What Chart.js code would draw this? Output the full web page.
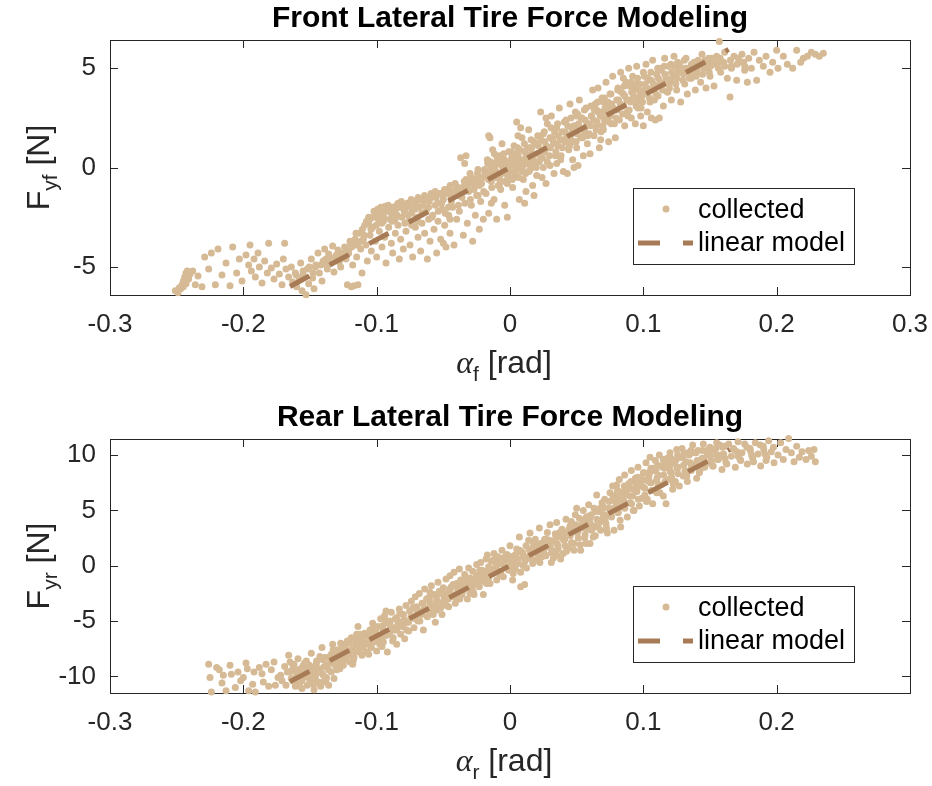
<!DOCTYPE html>
<html>
<head>
<meta charset="utf-8">
<script src="https://cdn.jsdelivr.net/npm/chart.js@4.4.1/dist/chart.umd.min.js"></script>
<style>
  html, body { margin: 0; padding: 0; background: #fff; }
  canvas { display: block; }
</style>
</head>
<body>
<canvas id="frontChart" width="932" height="393"></canvas>
<canvas id="rearChart" width="932" height="393"></canvas>
<script>
// collected samples [slip angle rad, lateral force N]
const frontPoints = [
  [-0.251,-6.2],[-0.249,-6.3],[-0.247,-6.1],[-0.246,-5.9],[-0.245,-5.7],[-0.244,-5.5],[-0.243,-5.3],[-0.242,-5.2],[-0.245,-6.0],[-0.241,-5.6],[-0.240,-5.35],[-0.243,-5.85],[-0.248,-6.05],
  [-0.238,-5.2],[-0.236,-5.9],[-0.234,-5.45],[-0.231,-6.0],[-0.229,-4.5],[-0.226,-5.1],[-0.224,-4.3],[-0.221,-5.9],[-0.219,-4.1],[-0.216,-5.4],[-0.213,-4.8],[-0.21,-5.95],[-0.208,-4.0],[-0.205,-5.3],[-0.203,-4.6],[-0.201,-5.7],
  [-0.198,-4.4],[-0.196,-4.9],[-0.195,-3.9],[-0.194,-5.2],[-0.192,-4.6],[-0.191,-5.5],[-0.189,-4.3],[-0.188,-5.0],[-0.186,-5.8],[-0.184,-4.7],[-0.182,-5.3],[-0.181,-3.8],[-0.179,-5.05],[-0.177,-5.6],[-0.175,-4.85],[-0.173,-5.35],[-0.171,-5.9],[-0.169,-3.8],[-0.168,-5.1],[-0.17,-4.6],
  [-0.166,-5.5],[-0.164,-5.0],[-0.163,-5.75],[-0.161,-5.3],[-0.16,-6.0],[-0.158,-5.6],[-0.157,-4.8],[-0.156,-6.2],[-0.155,-5.4],[-0.153,-6.4],[-0.152,-5.1],[-0.151,-5.85],[-0.149,-4.6],[-0.148,-5.55],[-0.147,-6.1],[-0.146,-5.0],[-0.144,-4.3],[-0.143,-5.3],[-0.142,-4.9],[-0.141,-5.7],
  [-0.139,-4.1],[-0.138,-4.6],[-0.137,-5.1],[-0.136,-4.35],[-0.134,-4.8],[-0.133,-3.95],[-0.132,-5.25],[-0.131,-4.5],[-0.129,-4.15],[-0.128,-4.75],[-0.127,-5.0],[-0.126,-4.4],[-0.124,-4.0],[-0.123,-4.6],[-0.122,-5.9],[-0.121,-4.3],[-0.12,-3.7],[-0.119,-6.0],[-0.118,-4.9],[-0.117,-5.95],[-0.116,-3.9],[-0.115,-4.5],[-0.114,-5.9],[-0.113,-3.3],[-0.112,-4.1],[-0.111,-5.3],[-0.11,-3.6],
  [-0.109,-2.9],[-0.108,-3.9],[-0.107,-4.7],[-0.106,-2.5],[-0.105,-3.4],[-0.104,-4.2],[-0.103,-3.0],[-0.102,-2.2],[-0.101,-3.7],[-0.1,-4.5],[-0.099,-2.4],[-0.098,-3.2],[-0.097,-2.0],[-0.096,-4.0],[-0.095,-2.7],[-0.094,-3.5],[-0.093,-4.8],[-0.092,-2.1],[-0.091,-3.0],[-0.09,-2.6],[-0.089,-3.8],[-0.088,-4.3],[-0.087,-2.3],[-0.086,-3.3],[-0.085,-1.9],[-0.084,-2.9],[-0.083,-4.6],[-0.082,-3.6],[-0.081,-2.5],[-0.08,-4.1],
  [-0.079,-2.1],[-0.078,-3.2],[-0.077,-1.8],[-0.076,-2.7],[-0.075,-3.9],[-0.074,-2.3],[-0.073,-4.5],[-0.072,-1.7],[-0.071,-3.0],[-0.07,-2.5],[-0.069,-3.5],[-0.068,-2.0],[-0.067,-4.2],[-0.066,-2.8],[-0.065,-1.6],[-0.064,-3.3],[-0.063,-2.2],[-0.062,-4.6],[-0.061,-2.6],[-0.06,-3.7],
  [-0.059,-1.5],[-0.058,-2.4],[-0.057,-3.1],[-0.056,-1.9],[-0.055,-4.3],[-0.054,-2.7],[-0.053,-1.3],[-0.052,-3.6],[-0.051,-2.1],[-0.05,-1.6],[-0.049,-2.9],[-0.048,-4.0],[-0.047,-1.1],[-0.046,-2.4],[-0.045,-3.3],[-0.044,-1.7],[-0.043,-2.0],[-0.042,-3.9],[-0.041,-1.3],[-0.04,-2.6],[-0.045,-2.6],[-0.05,-3.8],
  [-0.039,-1.0],[-0.038,-2.2],[-0.037,0.5],[-0.036,-1.5],[-0.035,-3.4],[-0.034,0.2],[-0.033,-0.6],[-0.032,-2.8],[-0.031,-1.2],[-0.03,-0.3],[-0.029,-1.9],[-0.028,-3.7],[-0.027,-0.8],[-0.026,-2.4],[-0.025,-1.4],[-0.024,-0.1],[-0.023,-3.1],[-0.022,-1.7],[-0.021,-0.5],[-0.02,-2.6],[-0.033,0.6],[-0.027,-1.1],[-0.023,-0.9],
  [-0.019,-0.2],[-0.018,-1.3],[-0.017,0.4],[-0.016,-2.3],[-0.015,1.5],[-0.014,-0.7],[-0.013,0.9],[-0.012,-1.6],[-0.011,0.1],[-0.01,-2.6],[-0.009,-0.4],[-0.008,0.6],[-0.007,-1.1],[-0.006,1.2],[-0.005,-0.2],[-0.004,-1.9],[-0.003,0.3],[-0.002,-0.8],[-0.001,0.8],[0.0,-0.5],[-0.016,1.6],[-0.012,-0.3],[-0.008,-0.9],[-0.004,0.0],[-0.002,-2.5],[-0.014,-1.8],[-0.006,0.1],[-0.01,0.3],
  [0.001,0.2],[0.002,-1.0],[0.003,1.1],[0.004,-0.3],[0.005,2.3],[0.006,0.5],[0.007,-1.6],[0.008,0.0],[0.009,1.5],[0.01,-0.6],[0.011,0.8],[0.012,-1.2],[0.013,0.3],[0.014,1.9],[0.015,-0.1],[0.016,0.7],[0.017,-0.9],[0.018,1.3],[0.019,0.2],[0.02,-0.4],[0.003,-0.5],[0.006,1.6],[0.009,-0.2],[0.012,0.5],[0.015,1.0],[0.018,-1.4],[0.008,2.0],[0.011,-1.8],[0.004,0.7],[0.016,0.0],
  [0.021,1.2],[0.022,0.3],[0.023,2.8],[0.024,-0.5],[0.025,1.7],[0.026,0.8],[0.027,-0.8],[0.028,2.2],[0.029,1.0],[0.03,0.1],[0.031,2.6],[0.032,1.4],[0.033,-0.3],[0.034,0.6],[0.035,2.0],[0.036,1.1],[0.037,3.0],[0.038,0.4],[0.039,1.8],[0.04,-0.2],[0.025,0.0],[0.03,1.5],[0.035,0.2],[0.027,2.5],
  [0.041,1.3],[0.042,2.4],[0.043,-0.3],[0.044,0.9],[0.045,3.2],[0.046,1.7],[0.047,0.4],[0.048,2.1],[0.049,2.8],[0.05,1.0],[0.051,0.1],[0.052,3.4],[0.053,1.5],[0.054,2.5],[0.055,0.6],[0.056,1.9],[0.057,3.0],[0.058,1.2],[0.059,2.2],[0.06,0.7],[0.045,1.2],[0.05,2.6],[0.055,1.6],[0.048,0.0],
  [0.061,2.6],[0.062,3.9],[0.063,1.6],[0.064,3.2],[0.065,2.1],[0.066,4.0],[0.067,1.0],[0.068,2.8],[0.069,3.5],[0.07,1.9],[0.071,2.4],[0.072,4.3],[0.073,3.0],[0.074,1.3],[0.075,3.7],[0.076,2.2],[0.077,4.6],[0.078,2.9],[0.079,1.5],[0.08,3.4],[0.065,2.9],[0.07,3.3],[0.075,2.6],[0.068,1.4],
  [0.081,4.0],[0.082,2.4],[0.083,4.8],[0.084,3.1],[0.085,3.7],[0.086,2.1],[0.087,4.3],[0.088,2.8],[0.089,5.0],[0.09,3.4],[0.091,2.5],[0.092,4.6],[0.093,3.9],[0.094,2.2],[0.095,5.1],[0.096,3.0],[0.097,4.2],[0.098,2.6],[0.099,3.6],[0.1,4.8],[0.085,4.5],[0.09,4.1],[0.095,3.3],[0.1,2.1],
  [0.101,3.9],[0.102,5.2],[0.103,2.8],[0.104,4.4],[0.105,3.3],[0.106,2.5],[0.107,5.4],[0.108,4.0],[0.109,2.4],[0.11,4.7],[0.111,3.6],[0.112,2.5],[0.113,5.0],[0.114,4.2],[0.115,3.1],[0.116,5.5],[0.117,4.5],[0.118,3.8],[0.119,5.1],[0.12,4.3],
  [0.121,3.4],[0.123,5.6],[0.124,4.6],[0.125,3.9],[0.127,5.2],[0.128,3.3],[0.129,4.9],[0.131,4.2],[0.132,5.5],[0.133,3.7],[0.135,5.0],[0.136,4.5],[0.138,5.3],[0.139,3.9],[0.14,4.8],
  [0.141,5.4],[0.143,4.3],[0.144,5.7],[0.146,5.0],[0.147,4.0],[0.149,5.5],[0.15,4.6],[0.152,5.2],[0.153,4.1],[0.155,5.6],[0.157,6.35],[0.158,4.8],[0.159,5.3],
  [0.161,5.8],[0.163,4.5],[0.165,3.55],[0.166,5.1],[0.168,5.6],[0.17,4.4],[0.172,5.3],[0.174,5.7],[0.176,4.9],[0.178,4.3],[0.179,5.5],
  [0.181,5.0],[0.183,5.8],[0.185,4.4],[0.187,5.4],[0.19,5.1],[0.192,5.6],[0.195,4.8],[0.197,5.3],[0.2,5.9],
  [0.201,5.0],[0.205,5.6],[0.208,5.2],[0.212,5.0],[0.215,5.9],[0.218,5.3],[0.22,5.5],[0.223,5.6],[0.226,5.8],[0.229,5.7],[0.232,5.6],[0.235,5.75]
];
// the dense ridge of the front cloud
const frontCore = [
  [-0.1603,-5.4],[-0.1552,-5.2],[-0.1505,-5.0],[-0.1456,-4.9],[-0.1401,-4.7],[-0.1354,-4.5],[-0.1302,-4.4],[-0.1251,-4.3],[-0.1577,-5.6],[-0.1478,-5.3],[-0.1376,-4.9],[-0.1282,-4.6],
  [-0.1213,-4.2],[-0.1188,-4.0],[-0.1196,-3.8],[-0.1162,-3.6],[-0.1141,-3.9],[-0.1155,-3.3],[-0.1107,-3.1],[-0.1094,-3.4],[-0.1118,-3.7],
  [-0.1061,-2.8],[-0.1043,-3.1],[-0.1052,-2.6],[-0.1012,-2.3],[-0.0987,-2.6],[-0.1004,-2.9],[-0.0993,-2.1],
  [-0.0958,-2.2],[-0.0946,-2.5],[-0.0937,-1.95],[-0.0962,-2.8],[-0.0913,-1.9],[-0.0891,-2.3],[-0.0902,-2.0],[-0.0884,-2.7],
  [-0.0857,-2.1],[-0.0846,-2.4],[-0.0839,-1.8],[-0.0861,-2.6],[-0.0806,-1.9],[-0.0793,-2.2],[-0.0815,-1.7],[-0.0788,-2.8],
  [-0.0752,-2.0],[-0.0741,-1.6],[-0.0764,-2.4],[-0.0737,-2.9],[-0.0708,-1.8],[-0.0689,-1.5],[-0.0712,-2.1],[-0.0694,-2.7],
  [-0.0653,-1.9],[-0.0641,-1.4],[-0.0662,-2.3],[-0.0606,-1.7],[-0.0592,-1.3],[-0.0611,-2.0],[-0.0587,-2.5],
  [-0.0554,-1.5],[-0.0543,-1.8],[-0.0561,-1.2],[-0.0538,-2.2],[-0.0502,-1.4],[-0.0491,-1.1],[-0.0513,-1.8],[-0.0486,-2.3],
  [-0.0457,-1.2],[-0.0441,-1.5],[-0.0449,-0.9],[-0.0462,-2.0],[-0.0403,-1.1],[-0.0392,-1.4],[-0.0411,-0.8],[-0.0387,-1.9],
  [-0.0356,-1.0],[-0.0343,-0.7],[-0.0361,-1.3],[-0.0338,-1.8],[-0.0304,-0.8],[-0.0291,-0.5],[-0.0312,-1.1],[-0.0297,-1.6],
  [-0.0253,-0.6],[-0.0244,-0.3],[-0.0261,-0.9],[-0.0239,-1.4],[-0.0206,-0.5],[-0.0191,-0.1],[-0.0213,-0.8],[-0.0197,-1.2],
  [-0.0152,-0.3],[-0.0143,0.0],[-0.0161,-0.6],[-0.0148,0.3],[-0.0137,-1.0],[-0.0104,-0.2],[-0.0092,0.2],[-0.0111,-0.5],[-0.0097,0.5],[-0.0089,-0.9],
  [-0.0053,0.0],[-0.0042,0.4],[-0.0061,-0.3],[-0.0047,0.7],[-0.0038,-0.7],[0.0004,0.1],[0.0013,0.5],[-0.0011,-0.2],[0.0008,0.8],[0.0017,-0.6],[-0.0006,0.3],
  [0.0052,0.3],[0.0061,0.6],[0.0043,-0.1],[0.0057,1.0],[0.0066,-0.5],[0.0048,0.2],[0.0103,0.4],[0.0112,0.8],[0.0094,0.0],[0.0108,1.2],[0.0117,-0.3],
  [0.0151,0.6],[0.0163,1.0],[0.0146,0.2],[0.0158,1.4],[0.0142,-0.2],[0.0204,0.7],[0.0212,1.1],[0.0193,0.3],[0.0208,1.6],[0.0197,0.0],
  [0.0253,0.9],[0.0261,1.3],[0.0244,0.5],[0.0257,1.8],[0.0302,1.0],[0.0314,1.5],[0.0296,0.6],[0.0308,2.0],
  [0.0351,1.2],[0.0363,1.6],[0.0344,0.8],[0.0357,2.2],[0.0404,1.4],[0.0412,1.8],[0.0393,1.0],[0.0408,2.3],
  [0.0452,1.5],[0.0461,2.0],[0.0446,1.1],[0.0457,2.5],[0.0503,1.7],[0.0514,2.2],[0.0496,1.3],[0.0507,2.7],
  [0.0551,1.9],[0.0563,2.4],[0.0544,1.5],[0.0558,2.9],[0.0602,2.1],[0.0611,2.6],[0.0594,1.7],[0.0606,3.1],
  [0.0653,2.3],[0.0661,2.8],[0.0646,1.9],[0.0657,3.3],[0.0704,2.5],[0.0713,3.0],[0.0697,2.1],[0.0708,3.5],
  [0.0751,2.7],[0.0762,3.2],[0.0743,2.3],[0.0757,3.7],[0.0803,2.9],[0.0814,3.4],[0.0796,2.5],[0.0808,3.9],
  [0.0852,3.1],[0.0861,3.6],[0.0844,2.7],[0.0857,4.1],[0.0903,3.3],[0.0912,3.8],[0.0894,2.9],[0.0907,4.3],
  [0.0951,3.5],[0.0963,4.0],[0.0946,3.1],[0.0957,4.5],[0.1002,3.7],[0.1013,4.2],[0.0994,3.3],[0.1008,4.6],
  [0.1053,3.9],[0.1061,4.4],[0.1046,3.5],[0.1057,4.8],[0.1102,4.1],[0.1113,4.5],[0.1094,3.7],[0.1108,5.0],
  [0.1151,4.2],[0.1162,4.7],[0.1144,3.9],[0.1157,5.1],[0.1203,4.4],[0.1212,4.8],[0.1196,4.0],[0.1207,5.2],
  [0.1252,4.5],[0.1261,4.9],[0.1244,4.2],[0.1257,5.3],[0.1302,4.7],[0.1311,5.0],[0.1296,4.4],[0.1307,5.4],
  [0.1353,4.8],[0.1361,5.2],[0.1346,4.5],[0.1402,4.9],[0.1413,5.3],[0.1396,4.6],[0.1452,5.0],[0.1461,5.4],[0.1444,4.7],
  [0.1503,5.1],[0.1512,5.5],[0.1494,4.8],[0.1551,5.2],[0.1563,5.0],[0.1602,5.3],[0.1611,5.1],[0.1653,5.4],[0.1661,5.0],
  [0.1702,5.2],[0.1713,5.5],[0.1752,5.3],[0.1761,5.1]
];
// extra samples filling the thick part of the front band
const frontFill = [
  [-0.1076,-2.7],[-0.1026,-2.5],[-0.0976,-2.4],[-0.0926,-2.2],[-0.0876,-2.0],[-0.0826,-2.0],[-0.0776,-1.9],[-0.0726,-1.7],[-0.0676,-1.6],
  [-0.0626,-1.6],[-0.0576,-1.4],[-0.0526,-1.3],[-0.0476,-1.3],[-0.0426,-1.2],[-0.0376,-1.1],[-0.0326,-0.9],[-0.0276,-0.7],[-0.0226,-0.6],
  [-0.0182,-0.4],[-0.0167,0.2],[-0.0124,-0.1],[-0.0118,0.7],[-0.0076,-0.6],[-0.0069,0.4],[-0.0027,0.2],[-0.0019,-0.4],[0.0021,0.6],[0.0029,-0.2],
  [0.0072,0.9],[0.0078,0.3],[0.0123,0.2],[0.0131,1.0],[0.0174,0.4],[0.0182,1.2],[0.0226,0.6],[0.0233,1.4],[0.0272,1.1],[0.0279,0.3],
  [0.0327,1.2],[0.0334,1.8],[0.0376,1.4],[0.0383,0.6],[0.0427,1.6],[0.0433,2.1],[0.0478,1.9],[0.0482,1.3],[0.0527,2.0],[0.0534,2.5],
  [0.0576,2.2],[0.0583,1.6],[0.0627,2.4],[0.0633,2.9],[0.0676,2.6],[0.0683,1.8],[0.0726,2.8],[0.0733,3.3],[0.0776,3.0],[0.0783,2.2],
  [0.0827,3.2],[0.0834,3.8],[0.0876,3.4],[0.0884,2.6],[0.0927,3.6],[0.0934,4.2],[0.0976,3.8],[0.0983,3.0],[0.1027,4.0],[0.1034,4.5],
  [0.1076,4.2],[0.1083,3.4],[0.1127,4.3],[0.1134,4.9],[0.1176,4.5],[0.1183,3.8],[0.1227,4.6],[0.1234,5.1],[0.1276,4.8],[0.1326,5.0],
  [0.1376,5.1],[0.1426,5.2],[0.1476,5.3],[0.1526,5.4],[0.1576,5.5]
];
const frontModel = [[-0.165, -5.98], [0.164, 5.95]];

const rearPoints = [
  [-0.226,-8.9],[-0.225,-10.1],[-0.224,-11.4],[-0.22,-9.2],[-0.218,-9.4],[-0.216,-10.6],[-0.215,-9.9],[-0.213,-11.3],[-0.21,-9.0],[-0.209,-9.8],[-0.206,-11.0],[-0.204,-9.6],[-0.202,-10.4],[-0.2,-10.1],[-0.198,-8.8],[-0.197,-9.3],[-0.196,-11.3],[-0.193,-10.7],[-0.192,-9.6],[-0.191,-11.4],
  [-0.188,-9.2],[-0.186,-9.75],[-0.185,-10.5],[-0.183,-8.9],[-0.181,-10.9],[-0.179,-9.4],[-0.177,-8.7],[-0.176,-10.8],[-0.174,-10.1],[-0.172,-9.9],[-0.171,-10.4],[-0.169,-9.1],[-0.168,-10.8],[-0.167,-9.6],[-0.166,-8.1],[-0.165,-8.7],
  [-0.164,-9.5],[-0.163,-10.4],[-0.162,-8.9],[-0.161,-10.9],[-0.16,-9.9],[-0.159,-8.4],[-0.158,-10.6],[-0.157,-9.3],[-0.156,-11.1],[-0.155,-10.1],[-0.154,-8.8],[-0.153,-9.7],[-0.152,-10.8],[-0.151,-9.1],[-0.15,-10.4],[-0.149,-7.9],[-0.148,-9.6],[-0.147,-11.2],[-0.146,-10.0],[-0.145,-8.6],[-0.144,-10.6],[-0.143,-9.3],[-0.142,-10.9],[-0.141,-7.4],[-0.14,-9.9],[-0.139,-8.3],[-0.138,-10.3],[-0.137,-9.0],[-0.136,-10.8],[-0.135,-8.7],[-0.134,-9.6],[-0.133,-7.1],[-0.132,-10.2],[-0.131,-8.2],[-0.13,-9.4],[-0.158,-9.9],[-0.152,-9.4],[-0.146,-9.1],[-0.14,-10.5],[-0.134,-8.0],[-0.148,-10.2],[-0.155,-9.0],
  [-0.129,-7.6],[-0.128,-8.8],[-0.127,-7.0],[-0.126,-8.2],[-0.125,-9.0],[-0.124,-7.4],[-0.123,-8.5],[-0.122,-6.8],[-0.121,-7.9],[-0.12,-8.7],[-0.119,-6.5],[-0.118,-7.6],[-0.117,-8.3],[-0.116,-7.1],[-0.115,-6.2],[-0.114,-5.5],[-0.113,-7.8],[-0.112,-6.7],[-0.111,-8.1],[-0.11,-7.3],[-0.109,-6.1],[-0.108,-7.0],[-0.107,-7.8],[-0.106,-6.4],[-0.105,-5.8],[-0.104,-7.4],[-0.103,-5.2],[-0.102,-6.9],[-0.101,-6.0],[-0.1,-7.7],[-0.125,-7.8],[-0.118,-8.9],[-0.112,-7.3],[-0.106,-8.0],
  [-0.099,-5.5],[-0.098,-6.6],[-0.097,-4.8],[-0.096,-7.3],[-0.095,-5.9],[-0.094,-4.5],[-0.093,-6.3],[-0.092,-7.8],[-0.091,-5.2],[-0.09,-6.0],[-0.089,-4.2],[-0.088,-6.8],[-0.087,-5.6],[-0.086,-4.8],[-0.085,-7.1],[-0.084,-5.0],[-0.083,-3.9],[-0.082,-6.2],[-0.081,-5.4],[-0.08,-4.4],[-0.079,-6.6],[-0.078,-3.6],[-0.077,-5.1],[-0.076,-5.9],[-0.075,-4.1],[-0.095,-6.9],[-0.09,-5.1],[-0.085,-5.8],[-0.08,-5.3],[-0.093,-4.1],
  [-0.074,-3.2],[-0.073,-4.7],[-0.072,-5.6],[-0.071,-2.8],[-0.07,-3.8],[-0.069,-5.0],[-0.068,-2.5],[-0.067,-4.3],[-0.066,-3.4],[-0.065,-5.8],[-0.064,-2.1],[-0.063,-3.9],[-0.062,-4.6],[-0.061,-2.9],[-0.06,-3.5],[-0.059,-1.8],[-0.058,-4.1],[-0.057,-2.6],[-0.056,-5.1],[-0.055,-3.2],[-0.054,-1.5],[-0.053,-2.3],[-0.052,-3.8],[-0.051,-4.4],[-0.05,-2.0],[-0.07,-4.4],[-0.065,-4.0],[-0.06,-2.4],[-0.055,-4.0],
  [-0.049,-3.1],[-0.048,-1.2],[-0.047,-2.5],[-0.046,-3.7],[-0.045,-0.9],[-0.044,-1.9],[-0.043,-2.8],[-0.042,-0.6],[-0.041,-3.4],[-0.04,-1.6],[-0.039,-2.2],[-0.038,-0.3],[-0.037,-1.3],[-0.036,-2.6],[-0.035,-2.2],[-0.034,-0.8],[-0.033,-1.8],[-0.032,-3.0],[-0.031,-0.2],[-0.03,-1.1],[-0.029,-2.0],[-0.028,-0.5],[-0.027,-2.6],[-0.026,-1.4],[-0.025,0.1],[-0.045,-2.2],[-0.04,-2.9],[-0.035,-1.5],[-0.03,-2.5],
  [-0.024,-0.9],[-0.023,-1.9],[-0.022,0.3],[-0.021,-0.4],[-0.02,-2.6],[-0.019,-1.2],[-0.018,0.6],[-0.017,0.96],[-0.016,-0.1],[-0.015,-1.6],[-0.014,0.4],[-0.013,-0.7],[-0.012,1.1],[-0.011,-0.2],[-0.01,-1.3],[-0.009,0.8],[-0.008,0.2],[-0.007,-0.6],[-0.006,1.4],[-0.005,-1.0],[-0.004,0.5],[-0.003,-0.1],[-0.002,1.0],[-0.001,-0.4],[0.0,1.8],[-0.02,-0.6],[-0.015,-0.5],[-0.01,0.1],[-0.005,0.7],
  [0.001,0.3],[0.002,-1.3],[0.003,0.9],[0.004,-0.3],[0.005,1.5],[0.006,0.6],[0.007,2.6],[0.008,-0.6],[0.009,1.2],[0.01,0.0],[0.011,-1.7],[0.012,1.8],[0.013,0.7],[0.014,2.3],[0.015,2.95],[0.016,1.0],[0.017,0.2],[0.018,1.6],[0.019,2.4],[0.02,0.5],[0.021,1.3],[0.022,3.4],[0.023,2.0],[0.024,0.8],[0.025,1.6],[0.005,0.2],[0.01,1.0],[0.015,1.4],[0.02,1.9],[0.008,-1.9],
  [0.026,2.4],[0.027,0.9],[0.028,3.0],[0.029,1.7],[0.03,3.7],[0.031,0.3],[0.032,2.2],[0.033,1.3],[0.034,2.9],[0.035,3.9],[0.036,1.8],[0.037,2.6],[0.038,0.6],[0.039,3.3],[0.04,1.1],[0.041,2.4],[0.042,4.2],[0.043,3.0],[0.044,1.6],[0.045,2.8],[0.046,4.0],[0.047,3.4],[0.048,2.0],[0.049,4.6],[0.05,5.2],[0.03,2.0],[0.035,1.0],[0.04,2.9],[0.045,3.6],[0.048,1.4],
  [0.051,3.1],[0.052,4.3],[0.053,1.4],[0.054,3.7],[0.055,5.0],[0.056,2.5],[0.057,4.1],[0.058,3.3],[0.059,5.5],[0.06,2.0],[0.061,4.6],[0.062,3.6],[0.063,5.2],[0.064,2.7],[0.065,6.4],[0.066,4.0],[0.067,4.9],[0.068,3.2],[0.069,5.7],[0.07,4.4],[0.071,6.0],[0.072,3.8],[0.073,2.95],[0.074,5.2],[0.075,6.6],[0.055,3.9],[0.06,4.3],[0.065,3.5],[0.07,5.2],[0.057,2.0],
  [0.076,4.5],[0.077,7.2],[0.078,3.2],[0.079,5.8],[0.08,6.5],[0.081,4.8],[0.082,7.8],[0.083,3.5],[0.084,6.1],[0.085,5.3],[0.086,8.2],[0.087,6.8],[0.088,4.4],[0.089,7.4],[0.09,5.7],[0.091,8.6],[0.092,6.3],[0.093,5.0],[0.094,7.9],[0.095,6.9],[0.096,8.9],[0.097,5.4],[0.098,7.3],[0.099,6.1],[0.1,8.4],[0.08,7.3],[0.085,6.7],[0.09,7.0],[0.095,7.6],[0.082,5.5],
  [0.101,7.0],[0.102,9.3],[0.103,6.0],[0.104,8.0],[0.105,9.8],[0.106,7.5],[0.107,5.6],[0.108,8.6],[0.109,9.5],[0.11,6.6],[0.111,8.2],[0.112,10.0],[0.113,7.3],[0.114,9.0],[0.115,6.3],[0.116,8.8],[0.117,5.6],[0.118,9.7],[0.119,7.8],[0.12,10.2],[0.121,8.4],[0.122,6.9],[0.123,9.3],[0.124,7.6],[0.125,10.5],[0.105,8.5],[0.11,7.7],[0.115,9.6],[0.12,9.0],
  [0.126,8.9],[0.127,7.2],[0.128,9.8],[0.129,10.6],[0.13,8.1],[0.132,9.4],[0.133,7.6],[0.134,10.2],[0.136,8.6],[0.137,10.9],[0.138,9.1],[0.14,7.9],[0.141,10.4],[0.142,8.4],[0.144,9.7],[0.145,11.0],[0.146,8.9],[0.148,10.1],[0.149,9.3],[0.15,10.7],
  [0.152,9.0],[0.153,10.4],[0.155,11.1],[0.156,9.6],[0.158,10.0],[0.159,8.7],[0.161,10.8],[0.162,9.3],[0.164,11.0],[0.166,9.9],[0.168,10.5],[0.169,8.9],[0.171,11.2],[0.173,9.5],[0.174,10.2],
  [0.176,11.0],[0.178,9.2],[0.18,10.6],[0.182,9.7],[0.184,11.1],[0.186,10.1],[0.188,9.0],[0.19,10.8],[0.192,9.5],[0.194,11.3],[0.196,10.3],[0.198,9.3],
  [0.201,10.0],[0.203,11.1],[0.205,9.6],[0.207,10.5],[0.209,11.5],[0.211,10.2],[0.213,9.4],[0.215,10.8],[0.217,9.8],[0.219,10.3],[0.222,9.6],[0.224,10.4],[0.226,9.9],[0.228,10.5],[0.229,9.4]
];
// the dense ridge of the rear cloud
const rearCore = [
  [-0.1652,-9.6],[-0.1641,-10.2],[-0.1603,-9.4],[-0.1594,-10.0],[-0.1612,-10.6],[-0.1553,-9.2],[-0.1542,-9.8],[-0.1561,-10.4],
  [-0.1504,-9.0],[-0.1493,-9.5],[-0.1512,-10.1],[-0.1452,-8.8],[-0.1444,-9.3],[-0.1461,-9.9],[-0.1437,-10.5],
  [-0.1403,-8.5],[-0.1392,-9.1],[-0.1411,-9.7],[-0.1352,-8.2],[-0.1343,-8.8],[-0.1361,-9.4],[-0.1303,-7.8],[-0.1294,-8.4],[-0.1312,-9.0],
  [-0.1252,-7.4],[-0.1241,-8.0],[-0.1263,-8.6],[-0.1203,-7.0],[-0.1192,-7.6],[-0.1211,-8.1],[-0.1152,-6.7],[-0.1143,-7.2],[-0.1161,-7.8],
  [-0.1103,-6.4],[-0.1094,-6.9],[-0.1112,-7.4],[-0.1052,-6.1],[-0.1041,-6.6],[-0.1063,-7.1],[-0.1003,-5.7],[-0.0992,-6.3],[-0.1011,-6.8],
  [-0.0952,-5.4],[-0.0943,-6.0],[-0.0961,-6.5],[-0.0903,-5.0],[-0.0894,-5.6],[-0.0912,-6.2],[-0.0852,-4.7],[-0.0841,-5.3],[-0.0863,-5.8],
  [-0.0803,-4.4],[-0.0792,-4.9],[-0.0811,-5.5],[-0.0752,-4.1],[-0.0743,-4.6],[-0.0761,-5.1],[-0.0703,-3.7],[-0.0694,-4.2],[-0.0712,-4.8],
  [-0.0652,-3.4],[-0.0641,-3.9],[-0.0663,-4.4],[-0.0603,-3.1],[-0.0592,-3.6],[-0.0611,-4.1],[-0.0552,-2.8],[-0.0543,-3.2],[-0.0561,-3.7],
  [-0.0503,-2.5],[-0.0494,-2.9],[-0.0512,-3.4],[-0.0452,-2.1],[-0.0441,-2.6],[-0.0463,-3.0],[-0.0403,-1.8],[-0.0392,-2.3],[-0.0411,-2.7],
  [-0.0352,-1.5],[-0.0343,-1.9],[-0.0361,-2.4],[-0.0303,-1.2],[-0.0294,-1.6],[-0.0312,-2.0],[-0.0252,-0.9],[-0.0241,-1.3],[-0.0263,-1.7],
  [-0.0203,-0.6],[-0.0192,-1.0],[-0.0211,-1.4],[-0.0152,-0.3],[-0.0143,-0.7],[-0.0161,-1.1],[-0.0103,0.0],[-0.0094,-0.4],[-0.0112,0.4],
  [-0.0052,0.2],[-0.0041,-0.2],[-0.0063,0.6],[0.0003,0.4],[0.0012,0.0],[-0.0008,0.8],[0.0052,0.6],[0.0061,0.2],[0.0043,1.0],
  [0.0103,0.8],[0.0112,0.4],[0.0094,1.2],[0.0152,1.0],[0.0161,0.6],[0.0143,1.5],[0.0203,1.2],[0.0214,0.8],[0.0196,1.7],
  [0.0252,1.4],[0.0261,1.0],[0.0243,2.0],[0.0303,1.7],[0.0312,1.2],[0.0294,2.3],[0.0352,2.0],[0.0361,1.5],[0.0344,2.6],
  [0.0403,2.3],[0.0414,1.8],[0.0396,2.9],[0.0452,2.7],[0.0461,2.1],[0.0443,3.3],[0.0503,3.0],[0.0512,2.5],[0.0494,3.7],
  [0.0552,3.4],[0.0563,2.8],[0.0544,4.1],[0.0603,3.8],[0.0612,3.2],[0.0594,4.5],[0.0652,4.2],[0.0661,3.6],[0.0643,4.9],
  [0.0703,4.6],[0.0714,4.0],[0.0696,5.4],[0.0752,5.0],[0.0761,4.4],[0.0743,5.8],
  [0.0803,5.5],[0.0812,4.8],[0.0794,6.2],[0.0807,6.8],[0.0852,5.9],[0.0861,5.2],[0.0843,6.6],[0.0857,7.2],
  [0.0903,6.3],[0.0912,5.6],[0.0894,7.0],[0.0907,7.6],[0.0952,6.7],[0.0963,6.0],[0.0944,7.4],[0.0957,8.0],
  [0.1003,7.1],[0.1012,6.4],[0.0994,7.8],[0.1007,8.4],[0.1052,7.5],[0.1061,6.8],[0.1043,8.2],[0.1057,8.8],
  [0.1103,7.9],[0.1112,7.2],[0.1094,8.6],[0.1107,9.1],[0.1152,8.2],[0.1163,7.6],[0.1144,8.9],[0.1157,9.4],
  [0.1203,8.5],[0.1212,8.0],[0.1194,9.2],[0.1207,9.7],[0.1252,8.8],[0.1261,8.3],[0.1243,9.5],[0.1257,10.0],
  [0.1303,9.1],[0.1312,8.6],[0.1294,9.8],[0.1307,10.2],[0.1352,9.3],[0.1361,8.9],[0.1344,10.0],[0.1357,10.4],
  [0.1403,9.5],[0.1412,9.1],[0.1394,10.2],[0.1452,9.7],[0.1461,9.3],[0.1443,10.4],[0.1503,9.9],[0.1512,9.5],[0.1494,10.5],
  [0.1552,10.0],[0.1561,9.6],[0.1544,10.6],[0.1603,10.1],[0.1612,9.7],[0.1594,10.7],[0.1703,10.3],[0.1712,9.9],
  [0.1803,10.4],[0.1812,10.0],[0.1903,10.5],[0.1912,10.1]
];
// extra samples filling the thick part of the rear band
const rearFill = [
  [-0.1627,-9.0],[-0.1578,-10.9],[-0.1527,-8.6],[-0.1476,-10.7],[-0.1426,-8.2],[-0.1377,-10.1],[-0.1326,-7.6],[-0.1276,-9.3],[-0.1227,-7.0],
  [-0.1176,-8.6],[-0.1126,-6.2],[-0.1077,-7.8],[-0.1026,-5.6],[-0.0976,-7.1],[-0.0927,-5.0],[-0.0876,-6.5],[-0.0826,-4.3],[-0.0776,-5.8],
  [-0.0727,-3.8],[-0.0676,-5.0],[-0.0626,-3.0],[-0.0576,-4.4],[-0.0527,-2.5],[-0.0476,-3.6],[-0.0427,-1.7],[-0.0376,-3.0],[-0.0326,-1.1],
  [-0.0276,-2.3],[-0.0227,-0.4],[-0.0176,-1.6],[-0.0126,0.5],[-0.0076,-0.9],[-0.0027,1.0],[0.0024,-0.7],[0.0073,1.4],[0.0124,-0.2],
  [0.0176,2.0],[0.0224,0.3],[0.0273,2.4],[0.0326,0.7],[0.0373,3.0],[0.0424,1.3],[0.0473,3.6],[0.0526,1.9],[0.0573,4.4],[0.0624,2.6],
  [0.0676,5.2],[0.0724,3.4],[0.0773,6.2],[0.0826,4.1],[0.0873,7.0],[0.0924,5.0],[0.0976,7.9],[0.1024,5.8],[0.1073,8.8],[0.1124,6.6],
  [0.1176,9.2],[0.1224,7.4],[0.1273,9.8],[0.1326,8.1],[0.1373,10.2],[0.1424,8.6],[0.1476,10.4],[0.1524,9.0],[0.1573,10.9],[0.1626,9.2],
  [0.1676,10.6],[0.1726,9.6],[0.1776,10.7],[0.1826,9.4],[0.1876,10.9],[0.1926,9.8],[0.1976,10.7],
  [-0.1476,-9.6],[-0.1426,-9.6],[-0.1376,-9.0],[-0.1326,-8.6],[-0.0376,-2.0],[-0.0326,-1.7],[-0.0276,-1.3],[-0.0226,-1.1],[-0.0176,-0.5],
  [0.0676,4.0],[0.0726,4.5],[0.0776,5.2],[0.0826,5.8],[0.0876,6.4],[0.0926,6.9],[0.0976,7.2],[0.1026,7.7]
];
const rearModel = [[-0.165, -10.47], [0.165, 10.5]];

const frontSlipTicks = [-0.3, -0.2, -0.1, 0, 0.1, 0.2, 0.3];
const rearSlipTicks = [-0.3, -0.2, -0.1, 0, 0.1, 0.2];
const frontForceTicks = [-5, 0, 5];
const rearForceTicks = [-10, -5, 0, 5, 10];

const FONT = '"Liberation Sans", Arial, Helvetica, sans-serif';
const AXIS_COLOR = '#262626';
const DOT_COLOR = '#D5BA95';
const LINE_COLOR = '#A67B56';

// draw a label made of pieces (for subscripts), centered on (x, y)
function drawParts(ctx, parts, x, y, angle) {
  ctx.save();
  ctx.translate(x, y);
  ctx.rotate(angle);
  let total = 0;
  parts.forEach(p => { ctx.font = p.font; p.w = ctx.measureText(p.text).width; total += p.w; });
  let cx = -total / 2;
  ctx.textAlign = 'left';
  ctx.textBaseline = 'alphabetic';
  ctx.fillStyle = AXIS_COLOR;
  parts.forEach(p => { ctx.font = p.font; ctx.fillText(p.text, cx, p.dy || 0); cx += p.w; });
  ctx.restore();
}

const framePlugin = {
  id: 'frame',
  beforeDatasetsDraw(chart) {
    const { ctx, chartArea: a, scales: { x, y } } = chart;
    ctx.save();
    ctx.strokeStyle = AXIS_COLOR;
    ctx.lineWidth = 1;
    ctx.beginPath();
    x.ticks.forEach(t => {
      const px = Math.round(x.getPixelForValue(t.value)) + 0.5;
      ctx.moveTo(px, a.bottom); ctx.lineTo(px, a.bottom - 8);
      ctx.moveTo(px, a.top); ctx.lineTo(px, a.top + 8);
    });
    y.ticks.forEach(t => {
      const py = Math.round(y.getPixelForValue(t.value)) + 0.5;
      ctx.moveTo(a.left, py); ctx.lineTo(a.left + 8, py);
      ctx.moveTo(a.right, py); ctx.lineTo(a.right - 8, py);
    });
    ctx.stroke();
    ctx.strokeRect(Math.round(a.left) + 0.5, Math.round(a.top) + 0.5, Math.round(a.right - a.left), Math.round(a.bottom - a.top));
    ctx.restore();
  },
  afterDatasetsDraw(chart, args, opts) {
    const { ctx, chartArea: a } = chart;
    const midX = (a.left + a.right) / 2;
    ctx.save();
    ctx.fillStyle = '#000';
    ctx.font = 'bold 30px ' + FONT;
    ctx.textAlign = 'center';
    ctx.textBaseline = 'alphabetic';
    ctx.fillText(opts.title, midX, a.top - 13);
    ctx.restore();

    // axis labels with subscripts
    drawParts(ctx, [
      { text: '\u03b1', font: 'italic 32px "Liberation Serif", "Times New Roman", serif' },
      { text: opts.sub, font: '21px ' + FONT, dy: 8 },
      { text: ' [rad]', font: '32px ' + FONT }
    ], midX - 6, a.bottom + 78, 0);
    drawParts(ctx, [
      { text: 'F', font: '32px ' + FONT },
      { text: 'y' + opts.sub, font: '21px ' + FONT, dy: 8 },
      { text: ' [N]', font: '32px ' + FONT }
    ], 49, (a.top + a.bottom) / 2, -Math.PI / 2);

    // legend box inside the axes, bottom right
    const sets = chart.data.datasets;
    const bw = 221, bh = 76;
    const bx = Math.round(a.right - 56 - bw), by = Math.round(a.bottom - 31 - bh);
    ctx.save();
    ctx.fillStyle = '#fff';
    ctx.fillRect(bx, by, bw, bh);
    ctx.strokeStyle = AXIS_COLOR;
    ctx.lineWidth = 1;
    ctx.strokeRect(bx + 0.5, by + 0.5, bw, bh);
    ctx.fillStyle = DOT_COLOR;
    ctx.beginPath();
    ctx.arc(bx + 33, by + 21, 3.5, 0, Math.PI * 2);
    ctx.fill();
    ctx.strokeStyle = LINE_COLOR;
    ctx.lineWidth = 5;
    ctx.setLineDash([22, 23]);
    ctx.beginPath();
    ctx.moveTo(bx + 5, by + 55);
    ctx.lineTo(bx + 60, by + 55);
    ctx.stroke();
    ctx.setLineDash([]);
    ctx.fillStyle = '#000';
    ctx.font = '27px ' + FONT;
    ctx.textAlign = 'left';
    ctx.textBaseline = 'middle';
    ctx.fillText(sets[1].label, bx + 65, by + 23);
    ctx.fillText(sets[0].label, bx + 65, by + 56);
    ctx.restore();
  }
};

function makeChart(id, cfg) {
  return new Chart(document.getElementById(id), {
    type: 'scatter',
    data: {
      datasets: [
        {
          label: 'linear model',
          type: 'line',
          data: cfg.model.map(p => ({ x: p[0], y: p[1] })),
          borderColor: LINE_COLOR,
          borderWidth: 5,
          borderDash: [22, 23],
          pointRadius: 0,
          fill: false,
          order: 0,
          clip: false
        },
        {
          label: 'collected',
          data: cfg.points.map(p => ({ x: p[0], y: p[1] })),
          backgroundColor: DOT_COLOR,
          borderWidth: 0,
          pointRadius: 3.5,
          order: 1,
          clip: false
        }
      ]
    },
    options: {
      responsive: false,
      animation: false,
      devicePixelRatio: 1,
      layout: { padding: { top: cfg.top, right: 22, left: 0, bottom: 0 } },
      plugins: {
        legend: { display: false },
        tooltip: { enabled: false },
        frame: { title: cfg.title, sub: cfg.sub }
      },
      scales: {
        x: {
          type: 'linear',
          min: -0.3,
          max: 0.3,
          afterBuildTicks: s => { s.ticks = cfg.xTicks.map(v => ({ value: v })); },
          afterFit: s => { s.height = cfg.xHeight; s.paddingLeft = 0; s.paddingRight = 0; },
          grid: { display: false, drawTicks: false },
          border: { display: false },
          ticks: { font: { family: FONT, size: 26 }, color: AXIS_COLOR, padding: 14, maxRotation: 0, callback: v => String(v) }
        },
        y: {
          type: 'linear',
          min: cfg.yMin,
          max: cfg.yMax,
          afterBuildTicks: s => { s.ticks = cfg.yTicks.map(v => ({ value: v })); },
          afterFit: s => { s.width = 110; s.paddingTop = 0; s.paddingBottom = 0; },
          grid: { display: false, drawTicks: false },
          border: { display: false },
          ticks: { font: { family: FONT, size: 26 }, color: AXIS_COLOR, padding: 14, callback: v => String(v) }
        }
      }
    },
    plugins: [framePlugin]
  });
}

makeChart('frontChart', {
  title: 'Front Lateral Tire Force Modeling', sub: 'f',
  points: frontPoints.concat(frontCore, frontFill), model: frontModel,
  xTicks: frontSlipTicks, yTicks: frontForceTicks,
  yMin: -6.41, yMax: 6.42, top: 40, xHeight: 98
});
makeChart('rearChart', {
  title: 'Rear Lateral Tire Force Modeling', sub: 'r',
  points: rearPoints.concat(rearCore, rearFill), model: rearModel,
  xTicks: rearSlipTicks, yTicks: rearForceTicks,
  yMin: -11.5, yMax: 11.45, top: 46, xHeight: 93
});
</script>
</body>
</html>
